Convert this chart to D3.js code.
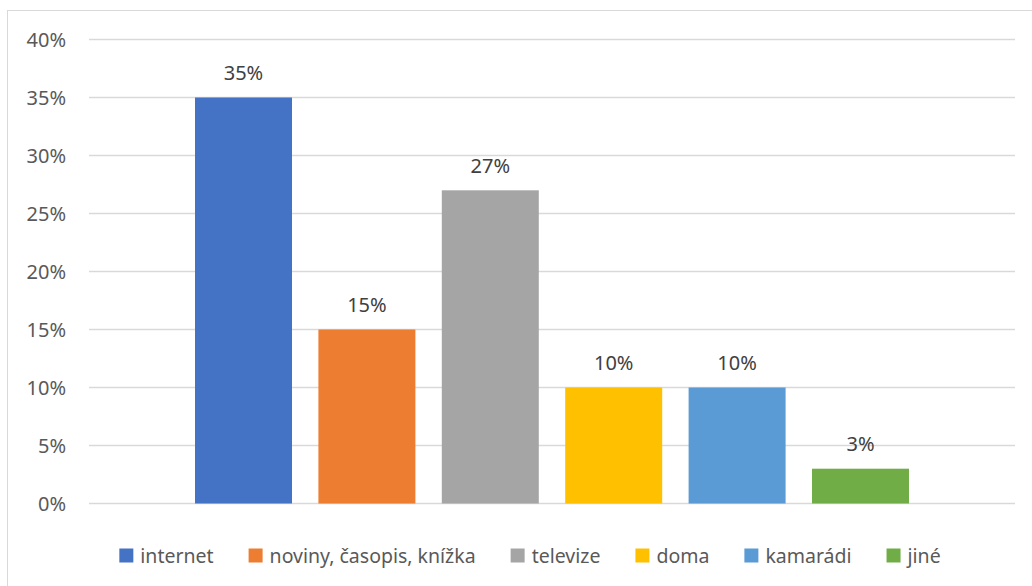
<!DOCTYPE html>
<html>
<head>
<meta charset="utf-8">
<script src="https://cdn.jsdelivr.net/npm/d3@7"></script>
<style>
html,body{margin:0;padding:0;background:#fff;}
svg{display:block;}
text{font-family:"Noto Sans","Open Sans",sans-serif;}
</style>
</head>
<body>
<svg id="chart" width="1032" height="586"></svg>
<script>
const series = ["internet", "noviny, časopis, knížka", "televize", "doma", "kamarádi", "jiné"];
const values = [0.35, 0.15, 0.27, 0.10, 0.10, 0.03];
const labels = ["35%", "15%", "27%", "10%", "10%", "3%"];
const colors = ["#4472C4", "#ED7D31", "#A5A5A5", "#FFC000", "#5B9BD5", "#70AD47"];
const yTicks = [0, 0.05, 0.10, 0.15, 0.20, 0.25, 0.30, 0.35, 0.40];

(function () {
const svg = d3.select("#chart");

// chart border
svg.append("rect").attr("x", 7.5).attr("y", 10.5).attr("width", 1040).attr("height", 600)
  .attr("fill", "none").attr("stroke", "#d9d9d9").attr("stroke-width", 1);

const pLeft = 89, pRight = 1015, pTop = 39.5, pBottom = 503.5;
const y = d3.scaleLinear().domain([0, 0.40]).range([pBottom, pTop]);
const x = d3.scaleBand().domain(series).range([pLeft, pRight]).paddingInner(0.214).paddingOuter(0.859);

// gridlines
svg.append("g").selectAll("line").data(yTicks).join("line")
  .attr("x1", pLeft).attr("x2", pRight)
  .attr("y1", d => y(d)).attr("y2", d => y(d))
  .attr("stroke", "#d9d9d9").attr("stroke-width", 1.5);

// y axis
const yAxis = d3.axisLeft(y).tickValues(yTicks).tickFormat(d3.format(".0%")).tickSize(0).tickPadding(23);
const ga = svg.append("g").attr("transform", `translate(${pLeft},0)`).call(yAxis);
ga.select(".domain").remove();
ga.selectAll("text").attr("fill", "#595959").style("font-size", "20px")
  .style("font-family", "'Noto Sans', sans-serif").attr("dy", "0.35em");

// bars
svg.append("g").selectAll("rect").data(series).join("rect")
  .attr("x", d => x(d)).attr("width", x.bandwidth())
  .attr("y", (d, i) => y(values[i])).attr("height", (d, i) => pBottom - y(values[i]))
  .attr("fill", (d, i) => colors[i]);

// data labels
svg.append("g").selectAll("text").data(series).join("text")
  .attr("x", d => x(d) + x.bandwidth() / 2)
  .attr("y", (d, i) => y(values[i]) - 17.5)
  .attr("text-anchor", "middle").attr("fill", "#404040").style("font-size", "20px")
  .text((d, i) => labels[i]);

// legend
const lg = svg.append("g");
const items = lg.selectAll("g").data(series).join("g");
items.append("rect").attr("width", 14).attr("height", 14).attr("fill", (d, i) => colors[i]);
items.append("text").attr("x", 21).attr("y", 14).attr("fill", "#595959").style("font-size", "19.5px").text(d => d);
const gap = 35;
const widths = [];
items.each(function () {
  widths.push(21 + d3.select(this).select("text").node().getComputedTextLength());
});
const total = d3.sum(widths) + gap * (series.length - 1);
let pos = 530 - total / 2;
items.attr("transform", (d, i) => {
  const t = `translate(${pos},548.5)`;
  pos += widths[i] + gap;
  return t;
});
})();
</script>
</body>
</html>
